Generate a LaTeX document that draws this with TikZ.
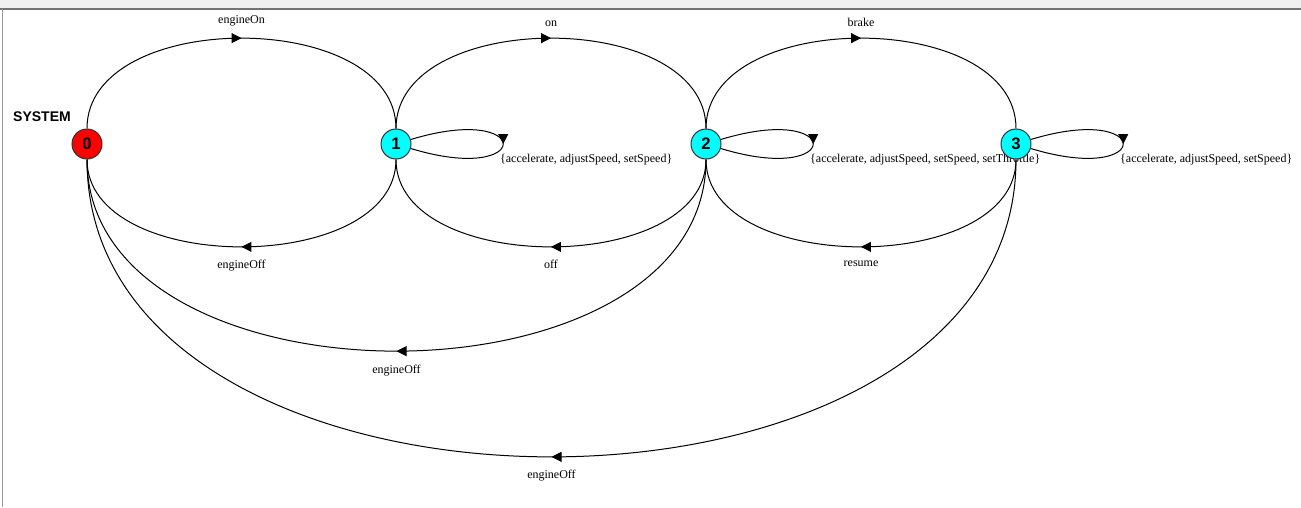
\documentclass[tikz,border=0pt]{standalone}
\usepackage{fontspec}
\setmainfont{Liberation Serif}
\setsansfont{Liberation Sans}
\usetikzlibrary{arrows.meta,decorations.markings,backgrounds}

\definecolor{initred}{RGB}{255,0,0}
\definecolor{statecyan}{RGB}{0,255,255}

\tikzset{
    state/.style={circle, draw=black!80, line width=0.75pt, minimum size=22.5pt, inner sep=0pt,
        font=\sffamily\bfseries\fontsize{12.5}{12.5}\selectfont},
    trans/.style={line width=0.75pt, postaction={decorate},
        decoration={markings, mark=at position 0.5 with {\arrow{Triangle[length=7.5pt,width=7.5pt]}}}},
    lbl/.style={font=\fontsize{9}{10}\selectfont},
    looplbl/.style={lbl, midway, anchor=north west, xshift=-6pt, yshift=-4pt}
}

\begin{document}
\begin{tikzpicture}[x=0.75pt, y=-0.75pt]
    \useasboundingbox (0,0) rectangle (1301,507);
    % window frame
    \fill [black!6] (0,0) rectangle (1301,8);
    \draw [black!55, line width=1.5pt] (0,8.5) -- (1301,8.5);
    \draw [black!40, line width=0.75pt] (2.5,9) -- (2.5,507);

    % states
    \node [state, fill=initred]   (s0) at (87,144)   {0};
    \node [state, fill=statecyan] (s1) at (396,144)  {1};
    \node [state, fill=statecyan] (s2) at (706,144)  {2};
    \node [state, fill=statecyan] (s3) at (1016,144) {3};
    \node [font=\sffamily\bfseries\fontsize{10.5}{10.5}\selectfont] (sys) at (42,117) {SYSTEM};

    \begin{pgfonlayer}{background}
    % forward
    \draw [trans] (s0) .. controls +(0,-136) and +(0,-136) .. node [lbl, midway, above=5pt] {engineOn} (s1);
    \draw [trans] (s1) .. controls +(0,-136) and +(0,-136) .. node [lbl, midway, above=5pt] {on} (s2);
    \draw [trans] (s2) .. controls +(0,-136) and +(0,-136) .. node [lbl, midway, above=5pt] {brake} (s3);

    % back
    \draw [trans] (s1) .. controls +(0,132) and +(0,132) .. node [lbl, midway, below=6.5pt] {engineOff} (s0);
    \draw [trans] (s2) .. controls +(0,132) and +(0,132) .. node [lbl, midway, below=6.5pt] {off} (s1);
    \draw [trans] (s3) .. controls +(0,132) and +(0,132) .. node [lbl, midway, below=6.5pt] {resume} (s2);
    \draw [trans] (s2) .. controls +(0,271) and +(0,271) .. node [lbl, midway, below=6.5pt] {engineOff} (s0);
    \draw [trans] (s3) .. controls +(0,412) and +(0,412) .. node [lbl, midway, below=6.5pt] {engineOff} (s0);

    % self loops
    \draw [trans] (s1) .. controls +(138,-42) and +(138,42) .. node [looplbl] {\{accelerate, adjustSpeed, setSpeed\}} (s1);
    \draw [trans] (s2) .. controls +(138,-42) and +(138,42) .. node [looplbl] {\{accelerate, adjustSpeed, setSpeed, setThrottle\}} (s2);
    \draw [trans] (s3) .. controls +(138,-42) and +(138,42) .. node [looplbl] {\{accelerate, adjustSpeed, setSpeed\}} (s3);
    \end{pgfonlayer}
\end{tikzpicture}
\end{document}
